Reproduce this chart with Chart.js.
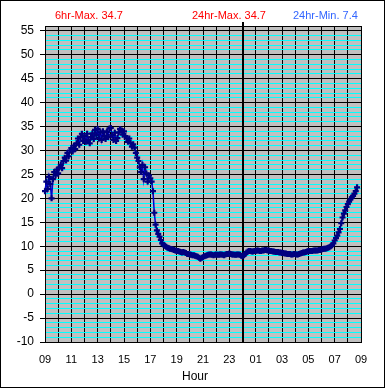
<!DOCTYPE html>
<html><head><meta charset="utf-8">
<script src="https://cdn.jsdelivr.net/npm/chart.js@4.4.1/dist/chart.umd.min.js"></script>
<style>html,body{margin:0;padding:0;background:#fff;}#wrap{width:385px;height:388px;}</style>
</head><body><div id="wrap"><canvas id="c" width="385" height="388"></canvas></div>
<script>
// hours after 09:00
const hours = [0.0,0.1,0.2,0.3,0.4,0.5,0.6,0.7,0.8,0.9,1.0,1.1,1.2,1.3,1.4,1.5,1.6,1.7,1.8,1.9,2.0,2.1,2.2,2.3,2.4,2.5,2.6,2.7,2.8,2.9,3.0,3.1,3.2,3.3,3.4,3.5,3.6,3.7,3.8,3.9,4.0,4.1,4.2,4.3,4.4,4.5,4.6,4.7,4.8,4.9,5.0,5.1,5.2,5.3,5.4,5.5,5.6,5.7,5.8,5.9,6.0,6.1,6.2,6.3,6.4,6.5,6.6,6.7,6.8,6.9,7.0,7.1,7.2,7.3,7.4,7.5,7.6,7.7,7.8,7.9,8.0,8.1,8.2,8.3,8.4,8.5,8.6,8.7,8.8,8.9,9.0,9.1,9.2,9.3,9.4,9.5,9.6,9.7,9.8,9.9,10.0,10.1,10.2,10.3,10.4,10.5,10.6,10.7,10.8,10.9,11.0,11.1,11.2,11.3,11.4,11.5,11.6,11.7,11.8,11.9,12.0,12.1,12.2,12.3,12.4,12.5,12.6,12.7,12.8,12.9,13.0,13.1,13.2,13.3,13.4,13.5,13.6,13.7,13.8,13.9,14.0,14.1,14.2,14.3,14.4,14.5,14.6,14.7,14.8,14.9,15.0,15.1,15.2,15.3,15.4,15.5,15.6,15.7,15.8,15.9,16.0,16.1,16.2,16.3,16.4,16.5,16.6,16.7,16.8,16.9,17.0,17.1,17.2,17.3,17.4,17.5,17.6,17.7,17.8,17.9,18.0,18.1,18.2,18.3,18.4,18.5,18.6,18.7,18.8,18.9,19.0,19.1,19.2,19.3,19.4,19.5,19.6,19.7,19.8,19.9,20.0,20.1,20.2,20.3,20.4,20.5,20.6,20.7,20.8,20.9,21.0,21.1,21.2,21.3,21.4,21.5,21.6,21.7,21.8,21.9,22.0,22.1,22.2,22.3,22.4,22.5,22.6,22.7,22.8,22.9,23.0,23.1,23.2,23.3,23.4,23.5,23.6,23.7,23.8,23.95];
const temps = [21.5,23.5,22.0,24.5,23.0,20.0,24.0,25.5,24.8,26.0,25.2,26.5,27.0,26.3,27.8,28.5,27.9,29.5,28.8,30.0,30.5,29.8,31.0,30.3,31.5,32.5,31.2,32.8,33.5,32.0,33.0,31.8,33.5,32.2,31.5,32.8,33.6,32.4,34.3,33.2,34.5,32.5,33.8,32.2,34.0,33.0,32.4,33.9,32.8,34.6,34.7,33.2,32.2,33.7,32.0,32.6,33.8,34.5,34.2,33.3,34.0,33.0,32.5,31.8,32.5,31.6,30.8,31.3,30.6,29.5,28.5,27.8,26.5,25.5,27.0,24.0,26.5,25.2,23.5,24.8,24.2,23.5,21.5,17.0,14.5,13.3,12.6,12.0,11.3,10.6,10.3,10.1,9.9,9.7,9.6,9.5,9.4,9.3,9.2,9.1,9.0,9.0,8.9,8.8,8.7,8.8,8.7,8.6,8.4,8.4,8.3,8.2,8.1,8.1,8.0,7.9,7.8,7.6,7.4,7.6,7.7,7.9,8.0,8.1,8.2,8.3,8.3,8.2,8.1,8.2,8.3,8.2,8.2,8.3,8.3,8.2,8.1,8.3,8.4,8.4,8.5,8.4,8.3,8.3,8.2,8.2,8.3,8.3,8.2,8.0,7.9,8.1,8.4,8.7,8.9,9.0,9.0,8.9,8.9,9.0,9.0,9.1,9.1,9.0,9.0,9.1,9.1,9.2,9.2,9.1,9.1,9.0,9.0,8.9,8.9,8.8,8.8,8.8,8.7,8.7,8.6,8.6,8.5,8.5,8.4,8.4,8.4,8.3,8.3,8.4,8.4,8.3,8.3,8.4,8.5,8.6,8.7,8.7,8.8,8.9,9.0,9.0,9.0,9.0,9.1,9.1,9.1,9.1,9.2,9.2,9.3,9.4,9.5,9.5,9.6,9.7,9.8,10.0,10.2,10.6,11.2,11.7,12.2,12.9,13.6,14.8,16.0,16.8,17.5,18.2,18.8,19.3,19.8,20.2,20.5,21.0,21.5,22.3];
const xTickLabels = ['09','10','11','12','13','14','15','16','17','18','19','20','21','22','23','00','01','02','03','04','05','06','07','08','09'];
const yTickLabels = [-10,-5,0,5,10,15,20,25,30,35,40,45,50,55];
const headerTexts = ['6hr-Max. 34.7','24hr-Max. 34.7','24hr-Min. 7.4'];
const headerColors = ['#ff0000','#ff0000','#3366ff'];
const midnightHour = 15;

const FONT = "'Liberation Sans', Arial, sans-serif";

const bgPlugin = {
  id:'bg',
  beforeDraw(chart){
    const {ctx, chartArea:a} = chart;
    ctx.save();
    ctx.fillStyle='#fff'; ctx.fillRect(0,0,chart.width,chart.height);
    ctx.fillStyle='#c0c0c0'; ctx.fillRect(a.left,a.top,a.right-a.left,a.bottom-a.top);
    ctx.restore();
  },
  beforeDatasetsDraw(chart){
    const {ctx, chartArea:a, scales} = chart;
    const x = Math.round(scales.x.getPixelForValue(midnightHour));
    ctx.save();
    ctx.strokeStyle='#000'; ctx.lineWidth=2;
    ctx.beginPath(); ctx.moveTo(x, a.top-4); ctx.lineTo(x, a.bottom); ctx.stroke();
    ctx.restore();
  },
  afterDraw(chart){
    const {ctx} = chart;
    ctx.save();
    ctx.font = '11px '+FONT; ctx.textBaseline='alphabetic';
    const xs = [55,192,293];
    headerTexts.forEach((t,i)=>{ctx.fillStyle=headerColors[i]; ctx.fillText(t, xs[i], 19);});
    ctx.fillStyle='#000'; ctx.font='12px '+FONT; ctx.textAlign='center';
    ctx.fillText('Hour', 195, 380);
    ctx.strokeStyle='#000'; ctx.lineWidth=1;
    ctx.strokeRect(0.5,0.5,chart.width-1,chart.height-1);
    ctx.restore();
  }
};

new Chart(document.getElementById('c'), {
  type:'line',
  data:{ datasets:[{
    data: hours.map((h,i)=>({x:h,y:temps[i]})),
    borderColor:'#0000cc', borderWidth:1.5,
    pointStyle:'cross', pointRadius:3, pointBorderWidth:2.2,
    pointBorderColor:'#000080', pointBackgroundColor:'#000080',
    tension:0, clip:false
  }]},
  options:{
    responsive:false, animation:false, devicePixelRatio:1,
    layout:{padding:{top:26,right:24,left:0,bottom:0}},
    plugins:{legend:{display:false}, tooltip:{enabled:false}},
    scales:{
      x:{ type:'linear', min:0, max:24,
        afterFit(s){ s.height = 46; },
        grid:{ color:'#000', lineWidth:1, drawTicks:false },
        border:{ color:'#000' },
        ticks:{ stepSize:1, autoSkip:false, maxRotation:0, padding:11, color:'#000',
          font:{family:FONT, size:11},
          callback:(v)=> (v%2===0 ? xTickLabels[v] : '') }
      },
      y:{ min:-10, max:56,
        afterFit(s){ s.width = 45; },
        grid:{ color:(c)=> (c.tick && (c.tick.value%5===0 || c.tick.value===56)) ? '#000' : '#00ffff',
               tickColor:(c)=> (c.tick && c.tick.value%5===0 && c.tick.value<=55) ? '#000' : 'rgba(0,0,0,0)',
               tickLength:5, lineWidth:1 },
        border:{ color:'#000' },
        ticks:{ stepSize:1, autoSkip:false, maxTicksLimit:100, padding:6, color:'#000',
          font:{family:FONT, size:12},
          callback:(v)=> yTickLabels.includes(v) ? String(v) : '' }
      }
    }
  },
  plugins:[bgPlugin]
});
</script></body></html>
